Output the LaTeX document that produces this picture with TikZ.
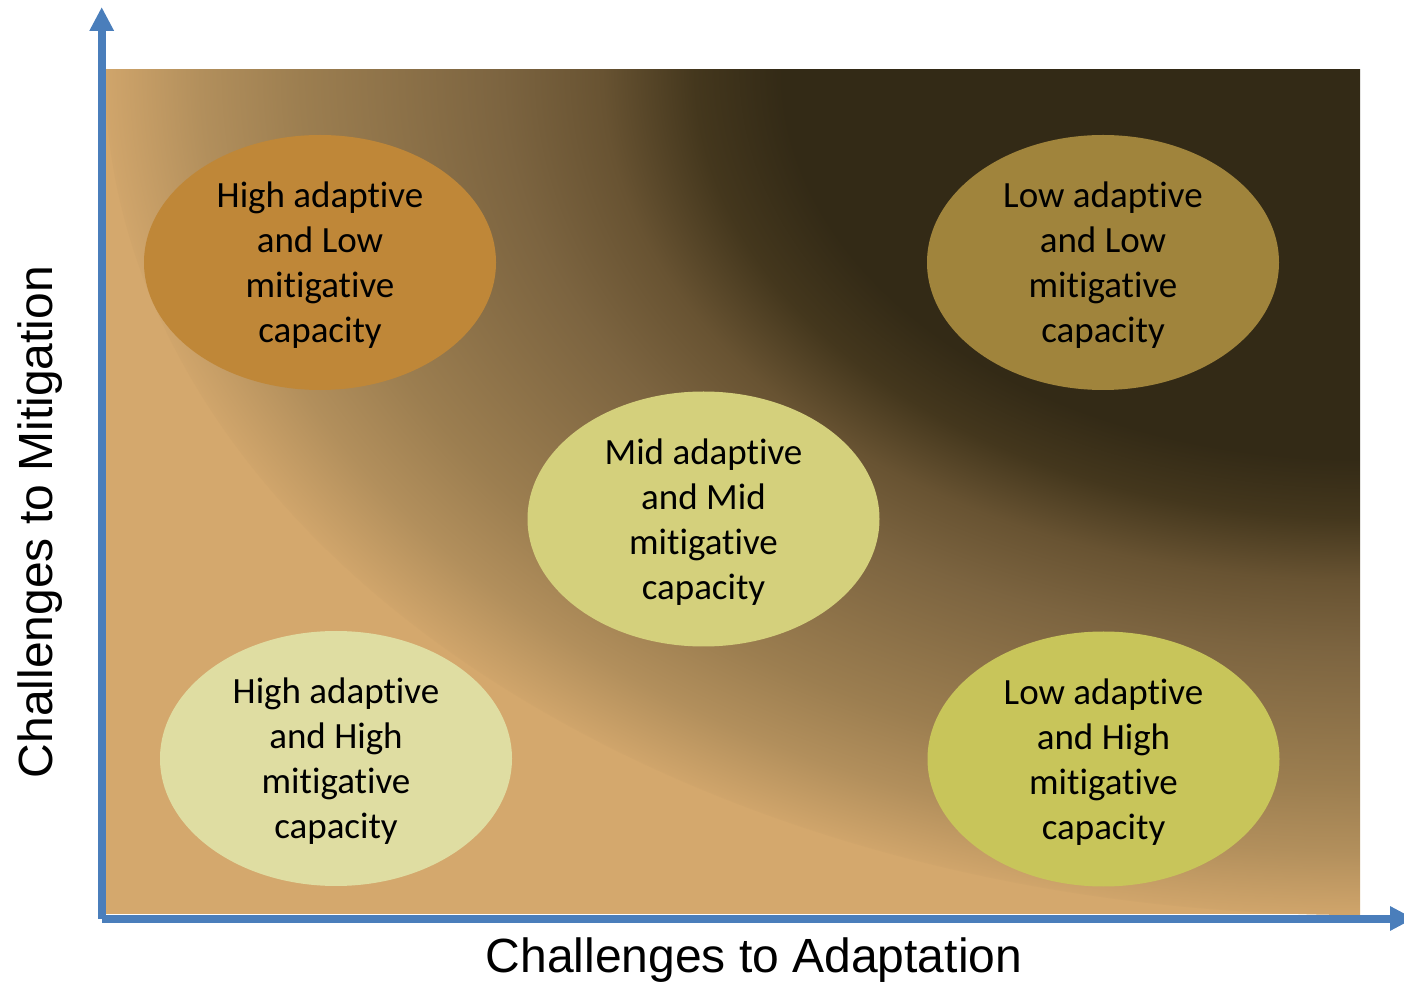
\documentclass[tikz,border=0pt]{standalone}
\usepackage{fontspec}
\setmainfont{Carlito}[Ligatures=NoCommon]
\newfontfamily\axisfont{Liberation Sans}
\usetikzlibrary{arrows.meta, shapes.geometric}

\definecolor{axisBlue}{HTML}{4A7EBB}
\definecolor{bgDark}{HTML}{332A16}
\definecolor{bgDeep}{HTML}{44371D}
\definecolor{bgBrown}{HTML}{685332}
\definecolor{bgMid}{HTML}{7C6440}
\definecolor{bgWarm}{HTML}{9C7E50}
\definecolor{bgSand}{HTML}{B28F5C}
\definecolor{bgTan}{HTML}{D0A56B}
\definecolor{bgLight}{HTML}{D4A86D}
\definecolor{zoneOrange}{HTML}{BF8738}
\definecolor{zoneOlive}{HTML}{A0843C}
\definecolor{zoneMid}{HTML}{D4D07C}
\definecolor{zonePale}{HTML}{DFDDA2}
\definecolor{zoneLime}{HTML}{C8C55A}

% fundo: escuro no canto superior direito (25bp = borda da elipse)
\pgfdeclareradialshading{bgGlow}{\pgfpoint{0bp}{0bp}}{%
  color(0bp)=(bgDark); color(11.5bp)=(bgDark); color(13.25bp)=(bgDeep);
  color(15.1bp)=(bgBrown); color(17.1bp)=(bgMid); color(21.1bp)=(bgWarm);
  color(23.1bp)=(bgSand); color(25bp)=(bgTan); color(26.25bp)=(bgLight);
  color(50bp)=(bgLight)}

\tikzset{
  axisArrow/.style={line width=4pt, draw=axisBlue, -{Triangle[length=12pt, width=11.5pt]}},
  axisLabel/.style={font=\axisfont\fontsize{24}{28}\selectfont, anchor=base},
  zoneEllipse/.style={ellipse, inner sep=0pt, minimum width=176pt, minimum height=127.5pt,
    align=center, text=black, text height=84.5pt, text depth=4pt,
    font=\fontsize{18.5}{22.5}\selectfont}
}

\begin{document}
\begin{tikzpicture}[x=0.5pt, y=-0.5pt]
  \useasboundingbox (0,0) rectangle (1404,983);

  %% --- FUNDO ---
  \begin{scope}
    \clip (105,70) rectangle (1360,914);
    \fill[bgLight] (105,70) rectangle (1360,914);
    \shade[shading=bgGlow] (1360,70) ellipse [x radius=627.5pt, y radius=422.5pt];
  \end{scope}

  %% --- EIXOS ---
  \coordinate (origin) at (101.7,918.5);
  \coordinate (yTip) at (101.7,7);
  \coordinate (xTip) at (1414,918.5);
  \draw[axisArrow] (origin) -- (yTip);
  \draw[axisArrow] (origin) -- (xTip);

  \node[axisLabel] (xLabel) at (754,972) {Challenges to Adaptation};
  \node[axisLabel, rotate=90] (yLabel) at (52,522) {Challenges to Mitigation};

  %% --- ZONAS ---
  \node[zoneEllipse, fill=zoneOrange] (highLow) at (320,262.5) {High adaptive\\and Low\\mitigative\\capacity};
  \node[zoneEllipse, fill=zoneOlive] (lowLow) at (1103,262.5) {Low adaptive\\and Low\\mitigative\\capacity};
  \node[zoneEllipse, fill=zoneMid] (midMid) at (703.5,519) {Mid adaptive\\and Mid\\mitigative\\capacity};
  \node[zoneEllipse, fill=zonePale] (highHigh) at (336,758.5) {High adaptive\\and High\\mitigative\\capacity};
  \node[zoneEllipse, fill=zoneLime] (lowHigh) at (1103.5,759) {Low adaptive\\and High\\mitigative\\capacity};
\end{tikzpicture}
\end{document}
